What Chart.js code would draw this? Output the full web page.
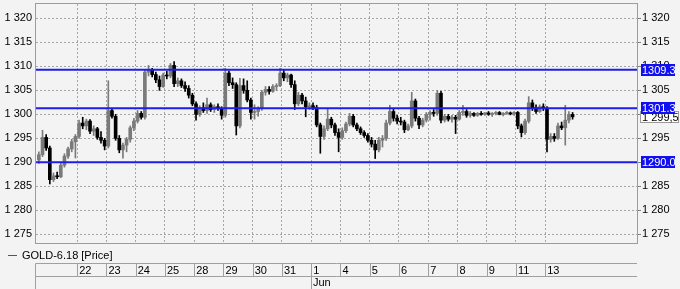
<!DOCTYPE html>
<html>
<head>
<meta charset="utf-8">
<script src="https://cdn.jsdelivr.net/npm/chart.js@4.4.1/dist/chart.umd.min.js"></script>
<style>
  html, body { margin: 0; padding: 0; background: #f3f3f3; }
  #wrap { position: relative; width: 680px; height: 289px; }
</style>
</head>
<body>
<div id="wrap"><canvas id="chart"></canvas></div>
<script>
// days shown on the time strip (grid lines at the start of each day)
const dayLabels = ['22', '23', '24', '25', '28', '29', '30', '31', '1', '4', '5', '6', '7', '8', '9', '11', '13'];
const monthLabel = 'Jun';
const monthStartDay = 8; // index of "1" in dayLabels
const seriesName = 'GOLD-6.18 [Price]';

// price axis ticks
const yTicks = [1275, 1280, 1285, 1290, 1295, 1300, 1305, 1310, 1315, 1320];

// horizontal levels and the last price
const levels = [1309.3, 1301.3, 1290.0];
const lastPrice = 1299.5;

// candles: 11 on the partial first day, then 8 per day
const opens = [
  1290.5, 1291.6, 1295.2, 1293.0, 1286.4, 1287.2, 1287.0, 1289.4, 1291.3, 1292.8, 1294.3,
  1295.4, 1298.2, 1297.6, 1298.6, 1296.5, 1297.0, 1295.2, 1294.6,
  1293.4, 1300.8, 1299.6, 1295.0, 1292.6, 1293.6, 1294.8, 1297.2,
  1298.6, 1300.2, 1299.4, 1308.8, 1309.2, 1308.3, 1307.2, 1305.8,
  1308.2, 1308.0, 1310.2, 1306.4, 1307.0, 1306.0, 1305.4, 1304.0,
  1302.2, 1300.0, 1301.4, 1300.8, 1302.0, 1301.0, 1301.6, 1301.2,
  1299.8, 1308.6, 1306.6, 1306.2, 1297.6, 1306.0, 1305.0, 1303.0,
  1300.4, 1300.6, 1301.2, 1304.6, 1305.2, 1304.8, 1305.8, 1306.0,
  1308.6, 1307.6, 1308.2, 1306.2, 1302.2, 1304.0, 1302.8, 1301.6,
  1301.8, 1301.4, 1297.8, 1295.4, 1297.0, 1299.0, 1297.8, 1296.2,
  1295.2, 1296.6, 1298.0, 1299.6, 1297.8, 1297.0, 1296.2, 1295.6,
  1294.6, 1293.8, 1292.6, 1294.6, 1295.0, 1298.2, 1300.6, 1299.2,
  1298.6, 1298.4, 1296.8, 1297.6, 1302.8, 1299.2, 1297.8, 1298.8,
  1300.0, 1300.4, 1300.2, 1304.4, 1298.8, 1299.6, 1299.0, 1299.4,
  1299.0, 1300.4, 1300.6, 1299.8, 1300.2, 1299.8, 1300.2, 1300.0,
  1300.3, 1300.0, 1300.2, 1300.4, 1300.0, 1300.2, 1300.3, 1300.1,
  1300.4, 1297.6, 1296.2, 1298.6, 1302.4, 1301.4, 1300.6, 1301.6,
  1301.2, 1294.8, 1295.4, 1295.0, 1297.6, 1297.2, 1298.8, 1300.0
];
const highs = [
  1292.2, 1296.7, 1295.8, 1293.4, 1287.8, 1288.0, 1289.8, 1291.8, 1293.2, 1294.8, 1295.8,
  1298.8, 1299.4, 1299.0, 1298.9, 1297.6, 1297.3, 1296.4, 1295.0,
  1307.0, 1301.2, 1300.0, 1295.6, 1294.0, 1295.2, 1297.6, 1299.2,
  1300.8, 1300.6, 1309.4, 1310.2, 1309.6, 1308.8, 1308.0, 1308.6,
  1309.0, 1310.6, 1311.0, 1307.6, 1307.4, 1306.8, 1306.0, 1304.4,
  1302.6, 1301.8, 1302.4, 1303.4, 1302.4, 1302.0, 1302.2, 1301.6,
  1309.6, 1309.0, 1307.6, 1306.6, 1307.5, 1307.4, 1307.0, 1303.4,
  1302.0, 1301.6, 1305.0, 1305.8, 1305.8, 1306.2, 1306.4, 1309.6,
  1309.2, 1308.6, 1308.4, 1307.0, 1304.6, 1304.4, 1303.6, 1302.4,
  1302.4, 1301.9, 1298.2, 1297.6, 1301.2, 1299.4, 1298.2, 1297.0,
  1297.2, 1298.4, 1300.2, 1300.0, 1298.2, 1297.4, 1296.6, 1296.0,
  1295.2, 1294.6, 1295.2, 1295.6, 1298.8, 1301.9, 1301.2, 1299.8,
  1299.4, 1298.8, 1298.0, 1304.6, 1303.2, 1299.6, 1299.2, 1300.4,
  1300.8, 1301.0, 1305.0, 1304.8, 1300.0, 1300.0, 1299.8, 1299.8,
  1300.8, 1301.9, 1301.0, 1300.6, 1300.4, 1300.4, 1300.6, 1300.4,
  1300.6, 1300.4, 1300.6, 1300.6, 1300.4, 1300.6, 1300.5, 1300.6,
  1300.6, 1298.0, 1299.0, 1303.7, 1303.0, 1302.0, 1302.0, 1302.2,
  1301.6, 1296.0, 1296.0, 1298.2, 1298.4, 1301.9, 1300.6, 1300.4
];
const lows = [
  1289.8, 1291.2, 1292.5, 1285.5, 1286.0, 1286.6, 1286.8, 1289.0, 1290.8, 1292.2, 1290.9,
  1295.0, 1297.0, 1296.8, 1296.0, 1295.6, 1294.8, 1294.0, 1292.6,
  1293.0, 1299.2, 1294.6, 1292.0, 1290.9, 1292.2, 1294.2, 1296.6,
  1298.2, 1299.0, 1299.0, 1308.0, 1307.8, 1306.6, 1305.0, 1305.6,
  1307.4, 1307.6, 1305.8, 1305.8, 1305.6, 1304.8, 1303.4, 1301.8,
  1298.8, 1299.6, 1300.4, 1300.2, 1300.6, 1300.4, 1300.8, 1299.0,
  1299.4, 1306.0, 1305.4, 1295.7, 1297.2, 1304.4, 1302.6, 1299.0,
  1299.0, 1299.6, 1300.8, 1304.0, 1304.2, 1304.6, 1305.0, 1305.8,
  1307.0, 1306.8, 1305.6, 1301.0, 1301.8, 1302.2, 1299.5, 1301.0,
  1301.0, 1297.4, 1291.9, 1294.8, 1296.6, 1297.2, 1295.6, 1292.2,
  1294.8, 1296.2, 1297.6, 1297.4, 1296.6, 1295.8, 1295.2, 1294.2,
  1293.2, 1290.8, 1292.2, 1293.2, 1294.6, 1297.8, 1298.6, 1298.0,
  1297.8, 1296.2, 1296.6, 1297.2, 1298.6, 1297.0, 1297.4, 1298.4,
  1298.8, 1299.6, 1299.8, 1298.2, 1298.4, 1298.6, 1298.4, 1296.0,
  1298.8, 1299.8, 1299.4, 1299.4, 1299.6, 1299.6, 1299.8, 1299.8,
  1299.8, 1299.6, 1299.9, 1299.9, 1299.7, 1300.0, 1299.9, 1299.8,
  1297.0, 1295.3, 1295.8, 1298.2, 1300.8, 1300.2, 1300.4, 1300.8,
  1292.2, 1294.2, 1294.4, 1294.8, 1296.8, 1293.6, 1298.2, 1299.0
];
const closes = [
  1291.6, 1295.2, 1293.0, 1286.4, 1287.2, 1287.0, 1289.4, 1291.3, 1292.8, 1294.3, 1295.4,
  1298.2, 1297.6, 1298.6, 1296.5, 1297.0, 1295.2, 1294.6, 1293.4,
  1300.8, 1299.6, 1295.0, 1292.6, 1293.6, 1294.8, 1297.2, 1298.6,
  1300.2, 1299.4, 1308.8, 1309.2, 1308.3, 1307.2, 1305.8, 1308.2,
  1308.0, 1310.2, 1306.4, 1307.0, 1306.0, 1305.4, 1304.0, 1302.2,
  1300.0, 1301.4, 1300.8, 1302.0, 1301.0, 1301.6, 1301.2, 1299.8,
  1308.6, 1306.6, 1306.2, 1297.6, 1306.0, 1305.0, 1303.0, 1300.4,
  1300.6, 1301.2, 1304.6, 1305.2, 1304.8, 1305.8, 1306.0, 1308.6,
  1307.6, 1308.2, 1306.2, 1302.2, 1304.0, 1302.8, 1301.6, 1301.8,
  1301.4, 1297.8, 1295.4, 1297.0, 1299.0, 1297.8, 1296.2, 1295.2,
  1296.6, 1298.0, 1299.6, 1297.8, 1297.0, 1296.2, 1295.6, 1294.6,
  1293.8, 1292.6, 1294.6, 1295.0, 1298.2, 1300.6, 1299.2, 1298.6,
  1298.4, 1296.8, 1297.6, 1302.8, 1299.2, 1297.8, 1298.8, 1300.0,
  1300.4, 1300.2, 1304.4, 1298.8, 1299.6, 1299.0, 1299.4, 1299.0,
  1300.4, 1300.6, 1299.8, 1300.2, 1299.8, 1300.2, 1300.0, 1300.3,
  1300.0, 1300.2, 1300.4, 1300.0, 1300.2, 1300.3, 1300.1, 1300.4,
  1297.6, 1296.2, 1298.6, 1302.4, 1301.4, 1300.6, 1301.6, 1301.2,
  1294.8, 1295.4, 1295.0, 1297.6, 1297.2, 1298.8, 1300.0, 1299.5
];

// time position of each candle, in days (day "22" starts at 0)
const SLOTS_PER_DAY = 8;
const FIRST_SLOT = -11;
const candleX = opens.map((_, i) => (FIRST_SLOT + i + 0.5) / SLOTS_PER_DAY);

const X_MIN = -1.41, X_MAX = 19.14;
const Y_MIN = 1273.2, Y_MAX = 1323.0;

const FONT = '"Liberation Sans", Arial, sans-serif';
const GRID = '#a6a6a6';
const LINE_BLUE = '#1e1ee8';
const BOX_BLUE = '#1010f0';
const UP = '#7a7a7a', DOWN = '#000000';

const isUp = opens.map((o, i) => closes[i] >= o);
const candleColors = isUp.map(u => u ? UP : DOWN);

function fmtPrice(v) {
  const s = String(v);
  return s.slice(0, 1) + ' ' + s.slice(1);
}

// keep the plot edges where the reference has them
function fitY(width) {
  return s => { s.width = width; s.paddingTop = 0; s.paddingBottom = 0; };
}

const levelDatasets = levels.map(lv => ({
  type: 'line',
  data: [{x: X_MIN, y: lv}, {x: X_MAX, y: lv}],
  borderColor: LINE_BLUE,
  borderWidth: 2,
  pointRadius: 0,
  yAxisID: 'y'
}));

// frame, time strip, legend and price boxes
const decor = {
  id: 'decor',
  afterDraw(chart) {
    const ctx = chart.ctx;
    const a = chart.chartArea;
    const xs = chart.scales.x;
    const ys = chart.scales.y;
    ctx.save();
    // plot frame
    ctx.strokeStyle = '#9c9c9c';
    ctx.lineWidth = 1;
    ctx.strokeRect(a.left - 0.5, a.top - 0.5, a.right - a.left + 1, a.bottom - a.top + 1);

    // legend
    ctx.strokeStyle = '#555';
    ctx.beginPath();
    ctx.moveTo(8, 255.5); ctx.lineTo(17, 255.5);
    ctx.stroke();
    ctx.fillStyle = '#000';
    ctx.font = '11px ' + FONT;
    ctx.textBaseline = 'middle';
    ctx.textAlign = 'left';
    ctx.fillText(seriesName, 22, 256);

    // time strip
    const top = 263.5, mid = 276.5, bottom = 289;
    ctx.strokeStyle = '#a0a0a0';
    ctx.beginPath();
    ctx.moveTo(a.left - 0.5, top); ctx.lineTo(a.right, top);
    ctx.moveTo(a.left - 0.5, mid); ctx.lineTo(a.right, mid);
    ctx.moveTo(a.left - 0.5, top); ctx.lineTo(a.left - 0.5, bottom);
    dayLabels.forEach((d, i) => {
      const px = Math.round(xs.getPixelForValue(i)) + 0.5;
      ctx.moveTo(px, top);
      ctx.lineTo(px, i === monthStartDay ? bottom : mid);
    });
    ctx.stroke();
    ctx.fillStyle = '#000';
    ctx.fillText(monthLabel, Math.round(xs.getPixelForValue(monthStartDay)) + 2, 283);

    // last price box
    const lp = Math.round(ys.getPixelForValue(lastPrice));
    ctx.fillStyle = '#ffffff';
    ctx.fillRect(640, lp - 5.5, 39, 11);
    ctx.strokeStyle = '#9a9a9a';
    ctx.strokeRect(640.5, lp - 5.5, 38, 11);
    ctx.fillStyle = '#000';
    ctx.fillText(fmtPrice(lastPrice).replace('.', ','), 642, lp + 0.5);

    // level boxes
    levels.forEach(lv => {
      const py = Math.round(ys.getPixelForValue(lv));
      ctx.fillStyle = BOX_BLUE;
      ctx.fillRect(641, py - 6, 34, 12);
      ctx.fillStyle = '#ffffff';
      ctx.fillText(lv.toFixed(1), 642, py + 0.5);
    });
    ctx.restore();
  }
};

new Chart(document.getElementById('chart'), {
  type: 'bar',
  data: {
    datasets: [
      ...levelDatasets,
      {
        // candle bodies
        data: candleX.map((x, i) => ({x: x, y: [opens[i], closes[i]]})),
        backgroundColor: candleColors,
        barThickness: 3,
        minBarLength: 1,
        grouped: false,
        yAxisID: 'y'
      },
      {
        // high-low wicks
        data: candleX.map((x, i) => ({x: x, y: [lows[i], highs[i]]})),
        backgroundColor: candleColors,
        barThickness: 1,
        grouped: false,
        yAxisID: 'y'
      }
    ]
  },
  options: {
    responsive: true,
    maintainAspectRatio: false,
    animation: false,
    layout: { padding: { top: 4, left: 0, right: 0, bottom: 0 } },
    plugins: { legend: { display: false }, tooltip: { enabled: false } },
    scales: {
      x: {
        type: 'linear',
        min: X_MIN,
        max: X_MAX,
        offset: false,
        afterBuildTicks: s => { s.ticks = dayLabels.map((_, i) => ({value: i})); },
        afterFit: s => { s.height = 46; s.paddingLeft = 0; s.paddingRight = 0; },
        ticks: {
          callback: (v, i) => dayLabels[i],
          autoSkip: false,
          maxRotation: 0,
          align: 'start',
          labelOffset: 2,
          padding: 21,
          color: '#000',
          font: { family: FONT, size: 11 }
        },
        grid: { color: GRID, drawTicks: false, offset: false },
        border: { display: false, dash: [2, 2] }
      },
      y: {
        position: 'left',
        min: Y_MIN,
        max: Y_MAX,
        beginAtZero: false,
        afterBuildTicks: s => { s.ticks = yTicks.map(v => ({value: v})); },
        afterFit: fitY(36),
        ticks: { callback: v => fmtPrice(v), color: '#000', padding: 4, font: { family: FONT, size: 11 } },
        grid: { color: GRID, drawTicks: false },
        border: { display: false, dash: [2, 2] }
      },
      y2: {
        position: 'right',
        min: Y_MIN,
        max: Y_MAX,
        beginAtZero: false,
        afterBuildTicks: s => { s.ticks = yTicks.map(v => ({value: v})); },
        afterFit: fitY(43),
        ticks: { callback: v => fmtPrice(v), color: '#000', padding: 1, font: { family: FONT, size: 11 } },
        grid: { drawOnChartArea: false, drawTicks: true, tickLength: 4, color: '#808080' },
        border: { display: false }
      }
    }
  },
  plugins: [decor]
});
</script>
</body>
</html>
